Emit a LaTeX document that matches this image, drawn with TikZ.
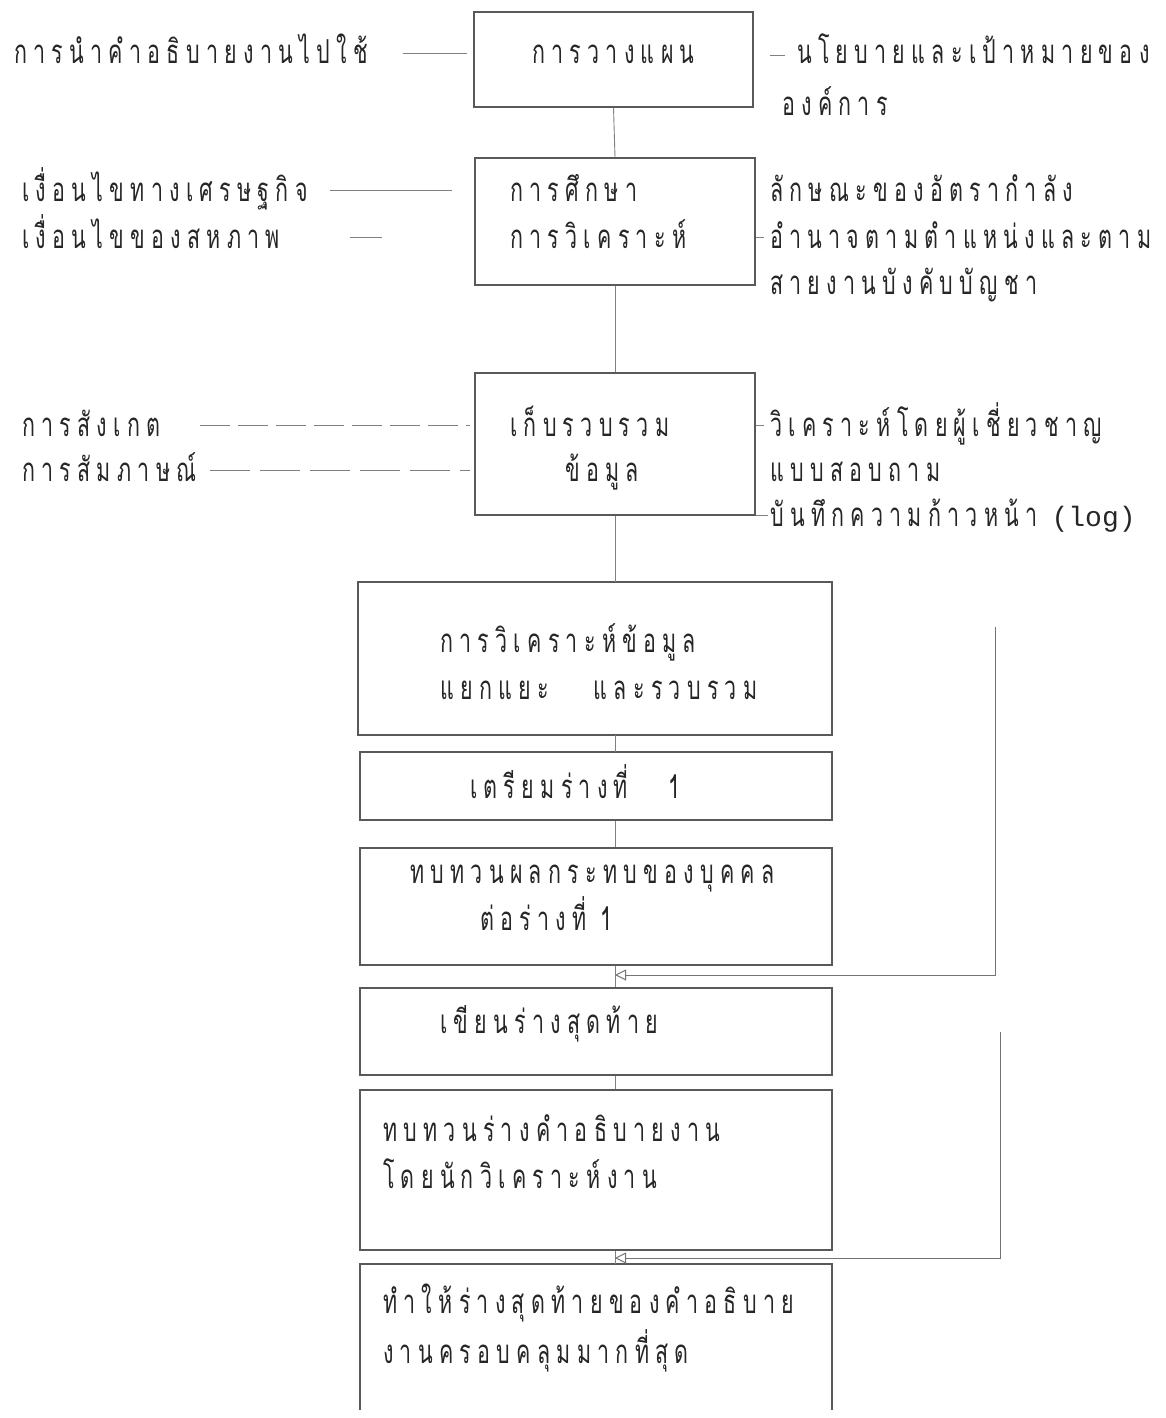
\documentclass[tikz,border=0pt]{standalone}
\usepackage{fontspec}
\newfontfamily\thai[Script=Thai,FakeStretch=0.65,LetterSpace=19]{Loma}
\newfontfamily\monof{Liberation Mono}
\usetikzlibrary{arrows.meta}
\begin{document}
\begin{tikzpicture}[x=1pt,y=-1pt,
  txt/.style={anchor=base west,inner sep=0pt,font=\thai\fontsize{33}{38}\selectfont,text=black!85},
  box/.style={draw=black!65,line width=1.1pt},
  conn/.style={draw=black!50,line width=0.9pt},
  fb/.style={draw=black!55,line width=1pt,-{Triangle[open,length=11pt,width=11pt]}}]
\useasboundingbox (0,0) rectangle (1165,1418);
% boxes
\node[box,minimum width=279pt,minimum height=95pt] (b1) at (613.5,59.5) {};
\node[box,minimum width=280pt,minimum height=127pt] (b2) at (615,221.5) {};
\node[box,minimum width=280pt,minimum height=142pt] (b3) at (615,444) {};
\node[box,minimum width=474pt,minimum height=153pt] (b4) at (595,658.5) {};
\node[box,minimum width=472pt,minimum height=68pt] (b5) at (596,786) {};
\node[box,minimum width=472pt,minimum height=117pt] (b6) at (596,906.5) {};
\node[box,minimum width=472pt,minimum height=87pt] (b7) at (596,1031.5) {};
\node[box,minimum width=472pt,minimum height=160pt] (b8) at (596,1170) {};
\draw[box] (360,1410) -- (360,1264) -- (832,1264) -- (832,1410);
\coordinate (b9n) at (615,1264);
% texts
\node[txt] (l1) at (14,64) {การนำคำอธิบายงานไปใช้};
\node[txt] (t1) at (532,64) {การวางแผน};
\node[txt] (r1a) at (797,64) {นโยบายและเป้าหมายของ};
\node[txt] (r1b) at (782,116) {องค์การ};
\node[txt] (l2a) at (22,201) {เงื่อนไขทางเศรษฐกิจ};
\node[txt] (l2b) at (22,248) {เงื่อนไขของสหภาพ};
\node[txt] (t2a) at (510,201) {การศึกษา};
\node[txt] (t2b) at (510,248) {การวิเคราะห์};
\node[txt] (r2a) at (770,201) {ลักษณะของอัตรากำลัง};
\node[txt] (r2b) at (770,248) {อำนาจตามตำแหน่งและตาม};
\node[txt] (r2c) at (770,294) {สายงานบังคับบัญชา};
\node[txt] (l3a) at (22,436) {การสังเกต};
\node[txt] (l3b) at (22,481) {การสัมภาษณ์};
\node[txt] (t3a) at (510,436) {เก็บรวบรวม};
\node[txt] (t3b) at (565,481) {ข้อมูล};
\node[txt] (r3a) at (770,436) {วิเคราะห์โดยผู้เชี่ยวชาญ};
\node[txt] (r3b) at (770,481) {แบบสอบถาม};
\node[txt] (r3c) at (770,526) {บันทึกความก้าวหน้า\hspace{14pt}{\monof\fontsize{28}{32}\selectfont(log)}};
\node[txt] (t4a) at (440,652) {การวิเคราะห์ข้อมูล};
\node[txt] (t4b) at (440,699) {แยกแยะ\hspace{45pt}และรวบรวม};
\node[txt] (t5) at (470,798) {เตรียมร่างที่\hspace{40pt}1};
\node[txt] (t6a) at (410,883) {ทบทวนผลกระทบของบุคคล};
\node[txt] (t6b) at (480,930) {ต่อร่างที่ 1};
\node[txt] (t7) at (440,1033) {เขียนร่างสุดท้าย};
\node[txt] (t8a) at (383,1141) {ทบทวนร่างคำอธิบายงาน};
\node[txt] (t8b) at (383,1188) {โดยนักวิเคราะห์งาน};
\node[txt] (t9a) at (383,1313) {ทำให้ร่างสุดท้ายของคำอธิบาย};
\node[txt] (t9b) at (383,1363) {งานครอบคลุมมากที่สุด};
% vertical flow connectors
\draw[conn] (b1.south) -- (b2.north);
\draw[conn] (b2.south) -- (b3.north);
\draw[conn] (b3.south) -- (615,582);
\draw[conn] (615,735) -- (615,752);
\draw[conn] (b5.south -| 615,0) -- (b6.north -| 615,0);
\draw[conn] (b6.south -| 615,0) -- (b7.north -| 615,0);
\draw[conn] (b7.south -| 615,0) -- (b8.north -| 615,0);
\draw[conn] (b8.south -| 615,0) -- (b9n);
% side connectors
\coordinate (c1) at (467,53);
\draw[conn] (403,53) -- (c1);
\coordinate (d1) at (785,55);
\draw[conn] (770,55) -- (d1);
\coordinate (c2a) at (452,190);
\draw[conn] (330,190) -- (c2a);
\coordinate (c2b) at (382,237);
\draw[conn] (350,237) -- (c2b);
\draw[conn] (b2.east |- 0,237) -- (764,237);
\coordinate (c3a) at (470,425);
\draw[conn,dashed,dash pattern=on 30pt off 8pt] (200,425) -- (c3a);
\coordinate (c3b) at (470,470);
\draw[conn,dash pattern=on 40pt off 10pt] (210,470) -- (c3b);
\draw[conn] (b3.east |- 0,425) -- (764,425);
\draw[conn] (b3.east |- 0,515) -- (768,515);
% feedback loops
\coordinate (f1s) at (995,627);
\draw[fb] (f1s) -- (995,975) -- (615,975);
\coordinate (f2s) at (1000,1032);
\draw[fb] (f2s) -- (1000,1258) -- (615,1258);
\end{tikzpicture}
\end{document}
